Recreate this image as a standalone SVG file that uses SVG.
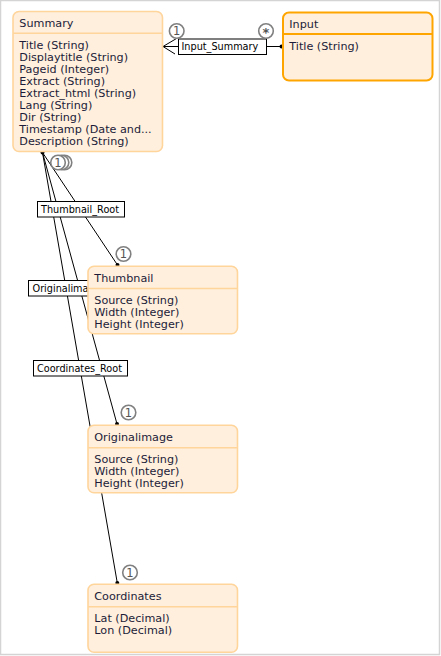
<svg xmlns="http://www.w3.org/2000/svg" width="441" height="656" viewBox="0 0 441 656">
<style>
.node rect.box{fill:#ffefdc;stroke:#ffd59c;stroke-width:1.6}
.node.sel rect.box{stroke:#ffa500;stroke-width:2}
.node line.sep{stroke:#ffd59c;stroke-width:1.6}
.node.sel line.sep{stroke:#ffa500;stroke-width:2}
.node text{font-family:"DejaVu Sans",Verdana,sans-serif;font-size:11.2px;fill:#1c1c3a}
.conn line,.conn path{stroke:#000;stroke-width:1;fill:none}
.lbl rect{fill:#fff;stroke:#000;stroke-width:1}
.lbl text{font-family:"DejaVu Sans",Verdana,sans-serif;font-size:9.7px;fill:#000}
.mult circle{fill:#fff;stroke:#808080;stroke-width:1.6}
.mult text{font-family:"DejaVu Sans",Verdana,sans-serif;font-size:11.5px;fill:#555;text-anchor:middle}
.mult text.star{font-weight:bold;font-size:13px}
.dot{fill:#000}
</style>
<rect x="0.5" y="0.5" width="439" height="654" fill="#fff" stroke="#d4d4d4" stroke-width="1.5"/>
<g id="connectors" class="conn">
  <line x1="163" y1="46.5" x2="282" y2="46.5"/>
  <path d="M176.5 38.5 L163 46.5 L175 54"/>
  <circle class="dot" cx="281.5" cy="46.5" r="2"/>
  <line x1="42.5" y1="152.5" x2="117.5" y2="265"/>
  <line x1="42.5" y1="152.5" x2="117" y2="424"/>
  <line x1="42.5" y1="152.5" x2="117.3" y2="583"/>
  <circle class="dot" cx="42.5" cy="152.5" r="2"/>
  <circle class="dot" cx="117.5" cy="265" r="2"/>
  <circle class="dot" cx="117" cy="424" r="2"/>
  <circle class="dot" cx="117.3" cy="583" r="2"/>
</g>
<g id="labels" class="lbl">
  <g id="lbl-input-summary"><rect x="178.5" y="39" width="88" height="15.5"/><text x="181.5" y="50.3">Input_Summary</text></g>
  <g id="lbl-thumbnail-root"><rect x="37.5" y="201.5" width="87" height="15.5"/><text x="41" y="213.3">Thumbnail_Root</text></g>
  <g id="lbl-originalimage-root"><rect x="28.5" y="280.5" width="70" height="15.5"/><text x="32.5" y="292.3">Originalima</text></g>
  <g id="lbl-coordinates-root"><rect x="33.5" y="360.5" width="94" height="15.5"/><text x="37" y="372.3">Coordinates_Root</text></g>
</g>
<g id="multiplicities" class="mult">
  <g><circle cx="176.7" cy="31" r="7.3"/><text x="176.7" y="35.2">1</text></g>
  <g><circle cx="266" cy="31" r="7.3"/><text class="star" x="266" y="37">*</text></g>
  <g><circle cx="64.5" cy="162.5" r="7.3"/></g>
  <g><circle cx="61.5" cy="162.5" r="7.3"/></g>
  <g><circle cx="58" cy="162.5" r="7.3"/><text x="58" y="166.7">1</text></g>
  <g><circle cx="123.5" cy="254" r="7.3"/><text x="123.5" y="258.2">1</text></g>
  <g><circle cx="128.5" cy="412.5" r="7.3"/><text x="128.5" y="416.7">1</text></g>
  <g><circle cx="130" cy="572.5" r="7.3"/><text x="130" y="576.7">1</text></g>
</g>
<g id="node-summary" class="node">
  <rect class="box" x="13" y="11.5" width="149.5" height="140" rx="6"/>
  <line class="sep" x1="13" y1="33.3" x2="162.5" y2="33.3"/>
  <text x="19.3" y="27">Summary</text>
  <text x="19.3" y="49">Title (String)</text>
  <text x="19.3" y="61">Displaytitle (String)</text>
  <text x="19.3" y="73">Pageid (Integer)</text>
  <text x="19.3" y="85">Extract (String)</text>
  <text x="19.3" y="97">Extract_html (String)</text>
  <text x="19.3" y="109">Lang (String)</text>
  <text x="19.3" y="121">Dir (String)</text>
  <text x="19.3" y="133">Timestamp (Date and...</text>
  <text x="19.3" y="145">Description (String)</text>
</g>
<g id="node-input" class="node sel">
  <rect class="box" x="283" y="12.5" width="149.5" height="68" rx="6"/>
  <line class="sep" x1="283" y1="34" x2="432.5" y2="34"/>
  <text x="289.3" y="28">Input</text>
  <text x="289.3" y="50">Title (String)</text>
</g>
<g id="node-thumbnail" class="node">
  <rect class="box" x="88" y="266.3" width="149.5" height="67.5" rx="6"/>
  <line class="sep" x1="88" y1="288.5" x2="237.5" y2="288.5"/>
  <text x="94.3" y="282">Thumbnail</text>
  <text x="94.3" y="304">Source (String)</text>
  <text x="94.3" y="316">Width (Integer)</text>
  <text x="94.3" y="328">Height (Integer)</text>
</g>
<g id="node-originalimage" class="node">
  <rect class="box" x="88" y="425.3" width="149.5" height="67.5" rx="6"/>
  <line class="sep" x1="88" y1="447.7" x2="237.5" y2="447.7"/>
  <text x="94.3" y="441">Originalimage</text>
  <text x="94.3" y="463">Source (String)</text>
  <text x="94.3" y="475">Width (Integer)</text>
  <text x="94.3" y="487">Height (Integer)</text>
</g>
<g id="node-coordinates" class="node">
  <rect class="box" x="88" y="584.3" width="149.5" height="68" rx="6"/>
  <line class="sep" x1="88" y1="606.7" x2="237.5" y2="606.7"/>
  <text x="94.3" y="600">Coordinates</text>
  <text x="94.3" y="622">Lat (Decimal)</text>
  <text x="94.3" y="634">Lon (Decimal)</text>
</g>
</svg>
